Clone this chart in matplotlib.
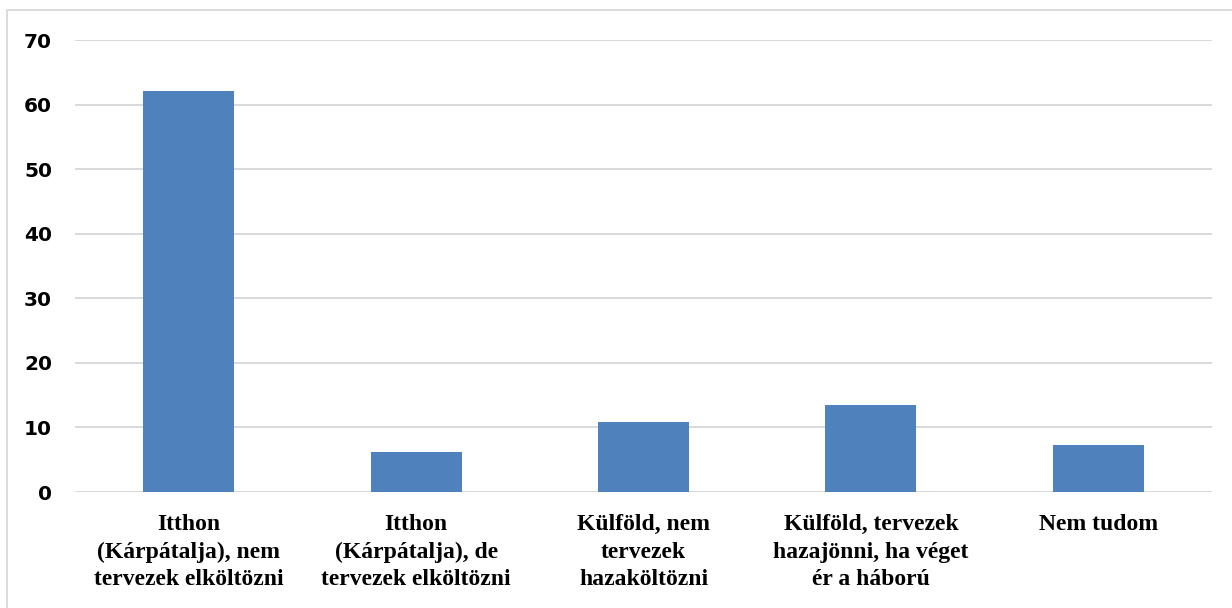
import numpy as np
import matplotlib
matplotlib.use("Agg")
import matplotlib.pyplot as plt
from matplotlib.patches import Rectangle

categories = [
    "Itthon\n(Kárpátalja), nem\ntervezek elköltözni",
    "Itthon\n(Kárpátalja), de\ntervezek elköltözni",
    "Külföld, nem\ntervezek\nhazaköltözni",
    "Külföld, tervezek\nhazajönni, ha véget\nér a háború",
    "Nem tudom",
]
values = [62.1, 6.2, 10.9, 13.5, 7.3]
yticks = [0, 10, 20, 30, 40, 50, 60, 70]

fig = plt.figure(figsize=(12.32, 6.08), dpi=100)
ax = fig.add_axes([75 / 1232, 1 - 492 / 608, (1212 - 75) / 1232, 452 / 608])

x = np.arange(len(categories))
ax.bar(x, values, width=0.4, color="#4F81BD", zorder=3)

ax.set_xlim(-0.5, len(categories) - 0.5)
ax.set_ylim(0, 70)
ax.set_yticks(yticks)
ax.set_yticklabels([str(t) for t in yticks], fontsize=14.5, fontweight="bold",
                   family="DejaVu Sans")
ax.set_xticks(x)
ax.set_xticklabels(categories, fontsize=17, fontweight="bold",
                   family="Liberation Serif", linespacing=1.4, va="top")
ax.tick_params(axis="both", length=0)
ax.tick_params(axis="y", pad=16.5)
ax.tick_params(axis="x", pad=16)
ax.yaxis.grid(True, color="#D9D9D9", linewidth=1.4, zorder=0)
for s in ax.spines.values():
    s.set_visible(False)
ax.axhline(0, color="#D9D9D9", linewidth=1.4, zorder=2)

# outer frame
fig.patches.append(Rectangle((7 / 1232, -0.01), 1.1, 1 - 10 / 608 + 0.01,
                             transform=fig.transFigure, fill=False,
                             edgecolor="#D9D9D9", linewidth=1.3))

fig.savefig("out.png", dpi=100)
